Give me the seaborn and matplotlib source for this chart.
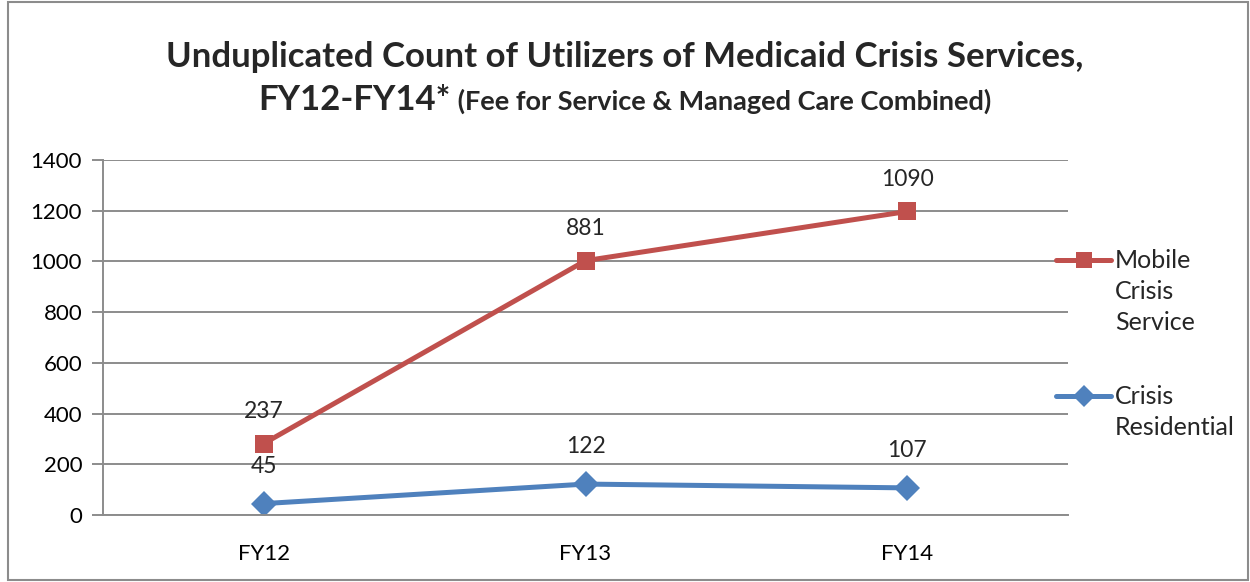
import numpy as np
import pandas as pd
import matplotlib.pyplot as plt
import seaborn as sns
from matplotlib.patches import Rectangle
from matplotlib.lines import Line2D

years = ["FY12", "FY13", "FY14"]
crisis_residential = [45, 122, 107]
mobile_crisis = [237, 881, 1090]

# stacked line chart: mobile crisis sits on top of crisis residential
mobile_stacked = np.add(crisis_residential, mobile_crisis)

RED = "#C0504D"
BLUE = "#4F81BD"
GRID = "#8C8C8C"

sns.set_theme(style="white")
plt.rcParams["font.family"] = ["Lato", "DejaVu Sans"]

df = pd.DataFrame({
    "year": years * 2,
    "value": list(mobile_stacked) + list(crisis_residential),
    "series": ["Mobile Crisis Service"] * 3 + ["Crisis Residential"] * 3,
})

fig = plt.figure(figsize=(12.5, 5.82), dpi=100)
ax = fig.add_axes([0.0824, 0.1151, 0.772, 0.61])

sns.lineplot(
    data=df, x="year", y="value", hue="series", style="series",
    palette={"Mobile Crisis Service": RED, "Crisis Residential": BLUE},
    markers={"Mobile Crisis Service": "s", "Crisis Residential": "D"},
    dashes=False, linewidth=3.6, markersize=13, markeredgewidth=0,
    legend=False, ax=ax,
)

ax.set_xlim(-0.5, 2.5)
ax.set_ylim(0, 1400)
ax.set_yticks(range(0, 1401, 200))
ax.yaxis.grid(True, color=GRID, linewidth=1.4)
ax.set_axisbelow(True)
ax.set_xlabel("")
ax.set_ylabel("")

for s in ["top", "right"]:
    ax.spines[s].set_visible(False)
for s in ["left", "bottom"]:
    ax.spines[s].set_color(GRID)
    ax.spines[s].set_linewidth(1.4)

ax.set_xticks([-0.5, 0.5, 1.5, 2.5], minor=True)
ax.tick_params(axis="x", which="minor", length=8, width=1.4, color=GRID, direction="out")
ax.tick_params(axis="x", which="major", length=0, pad=21, labelsize=16, labelcolor="black")
ax.tick_params(axis="y", length=8, width=1.4, color=GRID, direction="out", pad=7,
               labelsize=16, labelcolor="black", left=True)

# data labels (show series values, not stacked totals)
for i, (yv, lab) in enumerate(zip(mobile_stacked, mobile_crisis)):
    ax.annotate(str(lab), (i, yv), xytext=(0, 23), textcoords="offset points",
                ha="center", va="center", fontsize=16.5)
for i, yv in enumerate(crisis_residential):
    ax.annotate(str(yv), (i, yv), xytext=(0, 27), textcoords="offset points",
                ha="center", va="center", fontsize=16.5)

# title: two lines, second line with a smaller part
fig.text(0.5, 0.902, "Unduplicated Count of Utilizers of Medicaid Crisis Services,",
         ha="center", va="center", fontsize=25, fontweight="bold")
fig.canvas.draw()
r = fig.canvas.get_renderer()
t1 = fig.text(0, 0.828, "FY12-FY14*", ha="left", va="center", fontsize=25, fontweight="bold")
t2 = fig.text(0, 0.826, " (Fee for Service & Managed Care Combined)", ha="left", va="center",
              fontsize=19.5, fontweight="bold")
w1 = t1.get_window_extent(r).width / fig.bbox.width
w2 = t2.get_window_extent(r).width / fig.bbox.width
x0 = 0.5 - (w1 + w2) / 2
t1.set_x(x0)
t2.set_x(x0 + w1)

# legend drawn by hand so the marker sits on the first text line
def legend_entry(y, color, marker, lines):
    fig.add_artist(Line2D([0.845, 0.889], [y, y], color=color, linewidth=3.6,
                          solid_capstyle="round", transform=fig.transFigure))
    fig.add_artist(Line2D([0.867], [y], color=color, marker=marker, markersize=11,
                          markeredgewidth=0, linestyle="none", transform=fig.transFigure))
    fig.text(0.892, y + 0.019, "\n".join(lines), ha="left", va="top", fontsize=18,
             linespacing=1.42)

legend_entry(1 - 260 / 582, RED, "s", ["Mobile", "Crisis", "Service"])
legend_entry(1 - 396 / 582, BLUE, "D", ["Crisis", "Residential"])

# chart border
fig.add_artist(Rectangle((0.006, 0.003), 0.992, 0.994, transform=fig.transFigure,
                         fill=False, edgecolor="#8C8C8C", linewidth=1.5))

fig.savefig("out.png", dpi=100)
